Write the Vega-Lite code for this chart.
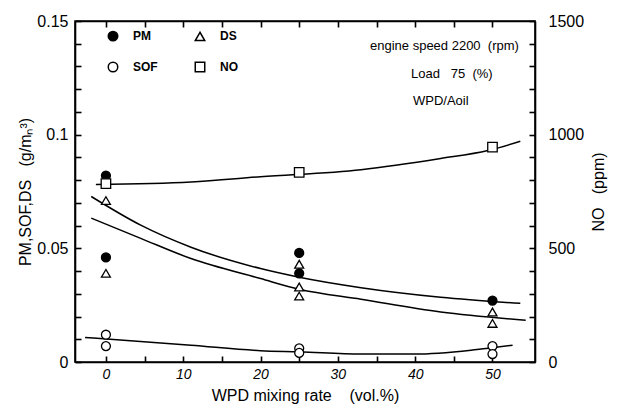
{
  "$schema": "https://vega.github.io/schema/vega-lite/v6.json",
  "width": 460,
  "height": 341,
  "autosize": {"type": "none"},
  "padding": {"left": 75, "top": 21, "right": 84, "bottom": 55},
  "background": "white",
  "config": {
    "view": {"stroke": "black", "strokeWidth": 1.6},
    "font": "Liberation Sans"
  },
  "datasets": {
    "points": [
      {"wpd": 0, "value": 0.082, "series": "PM"},
      {"wpd": 0, "value": 0.046, "series": "PM"},
      {"wpd": 25, "value": 0.048, "series": "PM"},
      {"wpd": 25, "value": 0.039, "series": "PM"},
      {"wpd": 50, "value": 0.027, "series": "PM"},
      {"wpd": 0, "value": 0.071, "series": "DS"},
      {"wpd": 0, "value": 0.039, "series": "DS"},
      {"wpd": 25, "value": 0.043, "series": "DS"},
      {"wpd": 25, "value": 0.033, "series": "DS"},
      {"wpd": 25, "value": 0.029, "series": "DS"},
      {"wpd": 50, "value": 0.022, "series": "DS"},
      {"wpd": 50, "value": 0.017, "series": "DS"},
      {"wpd": 0, "value": 0.012, "series": "SOF"},
      {"wpd": 0, "value": 0.007, "series": "SOF"},
      {"wpd": 25, "value": 0.006, "series": "SOF"},
      {"wpd": 25, "value": 0.004, "series": "SOF"},
      {"wpd": 50, "value": 0.007, "series": "SOF"},
      {"wpd": 50, "value": 0.0035, "series": "SOF"}
    ],
    "no_points": [
      {"wpd": 0, "ppm": 785, "series": "NO"},
      {"wpd": 25, "ppm": 834, "series": "NO"},
      {"wpd": 50, "ppm": 945, "series": "NO"}
    ],
    "fits": [
      {"wpd": -1.9, "value": 0.0728, "curve": "PM"},
      {"wpd": 4.5, "value": 0.0602, "curve": "PM"},
      {"wpd": 11, "value": 0.0505, "curve": "PM"},
      {"wpd": 20, "value": 0.0411, "curve": "PM"},
      {"wpd": 25, "value": 0.0373, "curve": "PM"},
      {"wpd": 33, "value": 0.0327, "curve": "PM"},
      {"wpd": 43.3, "value": 0.0285, "curve": "PM"},
      {"wpd": 53.6, "value": 0.0258, "curve": "PM"},
      {"wpd": -1.9, "value": 0.0633, "curve": "DS"},
      {"wpd": 4.5, "value": 0.0544, "curve": "DS"},
      {"wpd": 11, "value": 0.0455, "curve": "DS"},
      {"wpd": 20, "value": 0.0367, "curve": "DS"},
      {"wpd": 25, "value": 0.032, "curve": "DS"},
      {"wpd": 33, "value": 0.0276, "curve": "DS"},
      {"wpd": 43.3, "value": 0.022, "curve": "DS"},
      {"wpd": 54.3, "value": 0.0184, "curve": "DS"},
      {"wpd": -2.7, "value": 0.0108, "curve": "SOF"},
      {"wpd": 11, "value": 0.0074, "curve": "SOF"},
      {"wpd": 20, "value": 0.005, "curve": "SOF"},
      {"wpd": 25, "value": 0.0045, "curve": "SOF"},
      {"wpd": 33, "value": 0.0035, "curve": "SOF"},
      {"wpd": 40, "value": 0.0035, "curve": "SOF"},
      {"wpd": 48, "value": 0.0055, "curve": "SOF"},
      {"wpd": 52.6, "value": 0.0074, "curve": "SOF"}
    ],
    "no_fit": [
      {"wpd": -1.3, "ppm": 781},
      {"wpd": 11, "ppm": 792},
      {"wpd": 20, "ppm": 815},
      {"wpd": 33, "ppm": 846},
      {"wpd": 43.3, "ppm": 895},
      {"wpd": 49.4, "ppm": 930},
      {"wpd": 53.6, "ppm": 971}
    ],
    "notes": [
      {"note": "engine speed 2200\u00a0\u00a0(rpm)", "line": 1},
      {"note": "Load\u00a0\u00a0\u00a075\u00a0\u00a0(%)", "line": 2},
      {"note": "WPD/Aoil", "line": 3}
    ]
  },
  "layer": [
    {
      "data": {"name": "fits"},
      "mark": {"type": "line", "interpolate": "monotone", "color": "black", "strokeWidth": 1.5},
      "encoding": {
        "x": {"field": "wpd", "type": "quantitative", "scale": {"domain": [-4, 55.5], "nice": false, "zero": false},
          "axis": {"values": [0, 5, 10, 15, 20, 25, 30, 35, 40, 45, 50], "labelExpr": "datum.value % 10 == 0 ? toString(datum.value) : ''", "grid": true, "gridOpacity": 0, "domain": true, "domainColor": "black", "domainWidth": 1.6, "tickSize": -6, "tickColor": "black", "tickWidth": 1.6, "labelOverlap": false, "labelPadding": 11, "labelFontSize": 14, "labelFontStyle": "italic", "labelColor": "black", "labelFont": "Liberation Sans", "title": "WPD mixing rate\u00a0\u00a0\u00a0\u00a0(vol.%)", "titleFont": "Liberation Sans", "titleFontWeight": "normal", "titleColor": "black", "titleFontSize": 16, "titlePadding": 6}},
        "y": {"field": "value", "type": "quantitative", "scale": {"domain": [0, 0.15], "nice": false},
          "axis": {"values": [0, 0.01, 0.02, 0.03, 0.04, 0.05, 0.06, 0.07, 0.08, 0.09, 0.1, 0.11, 0.12, 0.13, 0.14, 0.15], "labelExpr": "round(datum.value * 100) % 5 == 0 ? toString(datum.value) : ''", "grid": true, "gridOpacity": 0, "domain": true, "domainColor": "black", "domainWidth": 1.6, "tickSize": -6, "tickColor": "black", "tickWidth": 1.6, "labelOverlap": false, "labelPadding": 13, "labelFontSize": 16, "labelColor": "black", "labelFont": "Liberation Sans", "title": "PM,SOF,DS\u00a0\u00a0\u00a0(g/mₙ³)", "titleFont": "Liberation Sans", "titleFontWeight": "normal", "titleColor": "black", "titleFontSize": 16, "titlePadding": 3}},
        "detail": {"field": "curve"}
      }
    },
    {
      "data": {"name": "points"},
      "mark": {"type": "point", "filled": true, "stroke": "black", "strokeWidth": 1.3, "opacity": 1, "size": 80},
      "encoding": {
        "x": {"field": "wpd", "type": "quantitative", "scale": {"domain": [-4, 55.5], "nice": false, "zero": false}, "axis": null},
        "y": {"field": "value", "type": "quantitative", "scale": {"domain": [0, 0.15], "nice": false}, "axis": null},
        "shape": {"field": "series", "type": "nominal", "scale": {"domain": ["PM", "SOF", "DS", "NO"], "range": ["circle", "circle", "triangle-up", "square"]},
          "legend": {"orient": "none", "legendX": 32, "legendY": 9, "columns": 2, "title": null, "labelFontSize": 12, "labelFontWeight": "bold", "labelColor": "black", "labelOffset": 14, "symbolSize": 90, "rowPadding": 15, "columnPadding": 34, "padding": 0, "gridAlign": "all",
            "encode": {"symbols": {"update": {"stroke": {"value": "black"}, "strokeWidth": {"value": 1.3}}}}}},
        "fill": {"field": "series", "type": "nominal", "scale": {"domain": ["PM", "SOF", "DS", "NO"], "range": ["black", "white", "white", "white"]},
          "legend": {"orient": "none", "legendX": 32, "legendY": 9, "columns": 2, "title": null, "labelFontSize": 12, "labelFontWeight": "bold", "labelColor": "black", "labelOffset": 14, "symbolSize": 90, "rowPadding": 15, "columnPadding": 34, "padding": 0, "gridAlign": "all",
            "encode": {"symbols": {"update": {"stroke": {"value": "black"}, "strokeWidth": {"value": 1.3}}}}}}
      }
    },
    {
      "data": {"name": "no_fit"},
      "mark": {"type": "line", "interpolate": "monotone", "color": "black", "strokeWidth": 1.5},
      "encoding": {
        "x": {"field": "wpd", "type": "quantitative", "scale": {"domain": [-4, 55.5], "nice": false, "zero": false},
          "axis": {"orient": "top", "values": [0, 5, 10, 15, 20, 25, 30, 35, 40, 45, 50], "grid": true, "gridOpacity": 0, "domain": true, "domainColor": "black", "domainWidth": 1.6, "labels": false, "tickSize": -6, "tickColor": "black", "tickWidth": 1.6, "title": null}},
        "y": {"field": "ppm", "type": "quantitative", "scale": {"domain": [0, 1500], "nice": false},
          "axis": {"orient": "right", "values": [0, 100, 200, 300, 400, 500, 600, 700, 800, 900, 1000, 1100, 1200, 1300, 1400, 1500], "labelExpr": "datum.value % 500 == 0 ? toString(datum.value) : ''", "grid": true, "gridOpacity": 0, "domain": true, "domainColor": "black", "domainWidth": 1.6, "tickSize": -6, "tickColor": "black", "tickWidth": 1.6, "labelOverlap": false, "labelPadding": 19, "labelFontSize": 16, "labelColor": "black", "labelFont": "Liberation Sans", "title": "NO\u00a0\u00a0\u00a0(ppm)", "titleFont": "Liberation Sans", "titleFontWeight": "normal", "titleColor": "black", "titleAngle": 270, "titleBaseline": "top", "titleFontSize": 16, "titlePadding": 7}}
      }
    },
    {
      "data": {"name": "no_points"},
      "mark": {"type": "point", "filled": true, "stroke": "black", "strokeWidth": 1.3, "opacity": 1, "size": 90},
      "encoding": {
        "x": {"field": "wpd", "type": "quantitative", "scale": {"domain": [-4, 55.5], "nice": false, "zero": false}, "axis": null},
        "y": {"field": "ppm", "type": "quantitative", "scale": {"domain": [0, 1500], "nice": false}, "axis": null},
        "shape": {"field": "series", "type": "nominal"},
        "fill": {"field": "series", "type": "nominal"}
      }
    },
    {
      "data": {"name": "notes"},
      "mark": {"type": "text", "align": "left", "baseline": "middle", "fontSize": 13, "color": "black"},
      "encoding": {
        "x": {"field": "line", "type": "quantitative", "scale": {"type": "linear", "domain": [1, 2, 3], "range": [295, 336, 338]}, "axis": null},
        "y": {"field": "line", "type": "quantitative", "scale": {"domain": [1, 3], "range": [25, 80]}, "axis": null},
        "text": {"field": "note"}
      }
    }
  ],
  "resolve": {"scale": {"y": "independent", "x": "independent"}}
}
